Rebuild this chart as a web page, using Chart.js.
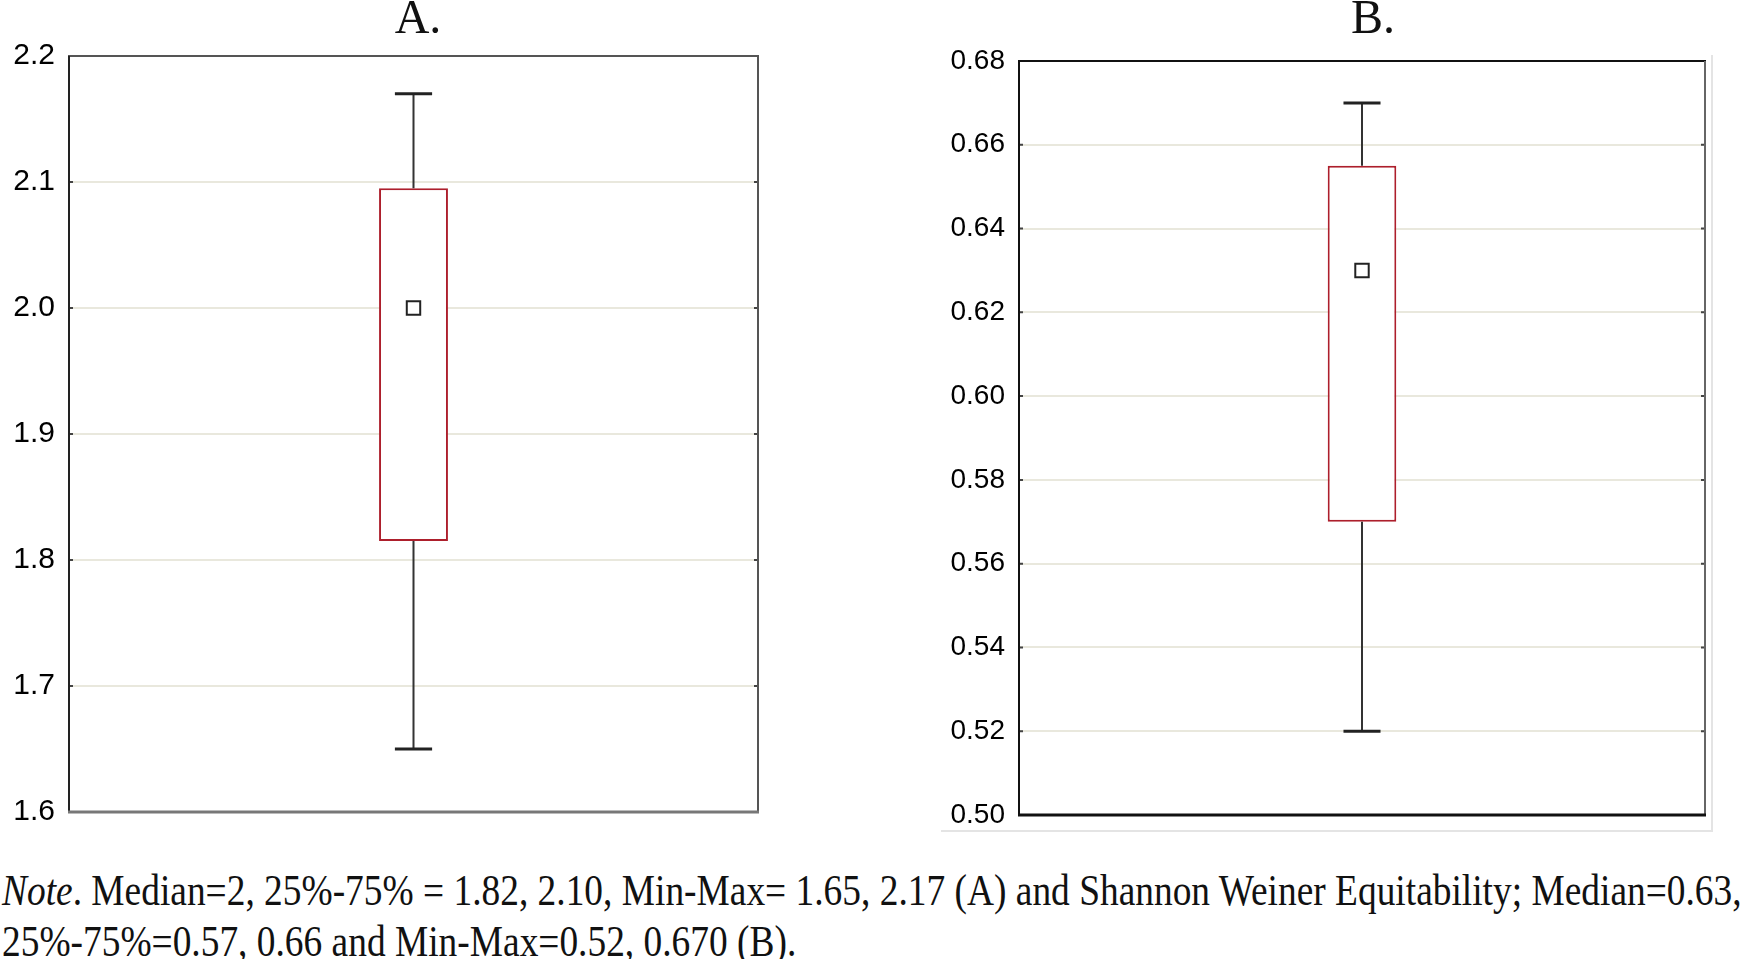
<!DOCTYPE html>
<html>
<head>
<meta charset="utf-8">
<script src="https://cdn.jsdelivr.net/npm/chart.js@4.4.1/dist/chart.umd.min.js"></script>
<style>
  html, body { margin: 0; padding: 0; background: #fff; }
  body { width: 1744px; height: 959px; position: relative; overflow: hidden; }
  .panel { position: absolute; }
  canvas { display: block; }
  .title { position: absolute; top: -7px; font: 48px "Liberation Serif", "Times New Roman", serif; line-height: 48px; color: #111; text-align: center; width: 100px; }
  .frameB { position: absolute; left: 941px; top: 55px; width: 770px; height: 775px; border-right: 2px solid #e4e4e4; border-bottom: 2px solid #e4e4e4; }
  .note { position: absolute; left: 2px; font: 44px "Liberation Serif", "Times New Roman", serif; line-height: 52px; color: #111; white-space: nowrap; transform-origin: 0 0; }
</style>
</head>
<body>
<div class="frameB"></div>
<div class="panel" style="left:0;top:0"><canvas id="chartA" width="772" height="850" style="width:772px;height:850px"></canvas></div>
<div class="panel" style="left:930px;top:0"><canvas id="chartB" width="790" height="852" style="width:790px;height:852px"></canvas></div>
<div class="title" style="left:368px">A.</div>
<div class="title" style="left:1323px">B.</div>
<div class="note" id="note1" style="top:865px"><i>Note</i>. Median=2, 25%-75% = 1.82, 2.10, Min-Max= 1.65, 2.17 (A) and Shannon Weiner Equitability; Median=0.63,</div>
<div class="note" id="note2" style="top:916px">25%-75%=0.57, 0.66 and Min-Max=0.52, 0.670 (B).</div>

<script>
// valores: [min, q1, mediana, q3, max]
const categories = ["A"];
const valuesA = [1.65, 1.815, 2.0, 2.095, 2.17];
const valuesB = [0.52, 0.57, 0.63, 0.655, 0.67];
const ticksA = [1.6, 1.7, 1.8, 1.9, 2.0, 2.1, 2.2];
const ticksB = [0.50, 0.52, 0.54, 0.56, 0.58, 0.60, 0.62, 0.64, 0.66, 0.68];

const boxColor = "#ad1f2c";
const whiskerColor = "#333";

// Desenha bigodes, moldura e marcas de escala
const boxPlugin = {
    id: "boxPlugin",
    afterDatasetsDraw(chart, args, opts) {
        const ctx = chart.ctx;
        const y = chart.scales.y;
        const vals = opts.values;
        const bar = chart.getDatasetMeta(0).data[0];
        const cx = bar.x;
        const capHalf = bar.width * 0.27;

        ctx.save();
        ctx.strokeStyle = whiskerColor;
        ctx.lineWidth = 2;
        ctx.beginPath();
        ctx.moveTo(cx, y.getPixelForValue(vals[3]));
        ctx.lineTo(cx, y.getPixelForValue(vals[4]));
        ctx.moveTo(cx, y.getPixelForValue(vals[1]));
        ctx.lineTo(cx, y.getPixelForValue(vals[0]));
        ctx.stroke();

        ctx.lineWidth = 3;
        ctx.strokeStyle = "#222";
        [vals[0], vals[4]].forEach(v => {
            const py = y.getPixelForValue(v);
            ctx.beginPath();
            ctx.moveTo(cx - capHalf, py);
            ctx.lineTo(cx + capHalf, py);
            ctx.stroke();
        });
        ctx.restore();
    },
    afterDraw(chart, args, opts) {
        const ctx = chart.ctx;
        const a = chart.chartArea;
        const y = chart.scales.y;
        ctx.save();
        // marcas pequenas dentro da área
        ctx.strokeStyle = "#444";
        ctx.lineWidth = 2;
        y.ticks.forEach(t => {
            const py = y.getPixelForValue(t.value);
            ctx.beginPath();
            ctx.moveTo(a.left, py);
            ctx.lineTo(a.left + 4, py);
            ctx.moveTo(a.right, py);
            ctx.lineTo(a.right - 4, py);
            ctx.stroke();
        });
        // moldura
        const side = (color, w, x1, y1, x2, y2) => {
            ctx.strokeStyle = color;
            ctx.lineWidth = w;
            ctx.beginPath();
            ctx.moveTo(x1, y1);
            ctx.lineTo(x2, y2);
            ctx.stroke();
        };
        const f = opts.frame;
        side(f.top, 2, a.left - 1, a.top, a.right + 1, a.top);
        side(f.left, 2, a.left, a.top, a.left, a.bottom);
        side(f.right, 2, a.right, a.top, a.right, a.bottom);
        side(f.bottom, 3, a.left - 1, a.bottom, a.right + 1, a.bottom);
        ctx.restore();
    }
};

function makeChart(canvasId, values, tickValues, decimals, fontSize, axisWidth, frame) {
    const ctx = document.getElementById(canvasId).getContext("2d");
    return new Chart(ctx, {
        data: {
            labels: categories,
            datasets: [
                {
                    type: "bar",
                    data: [[values[1], values[3]]],
                    backgroundColor: "#fff",
                    borderColor: boxColor,
                    borderWidth: 2,
                    borderSkipped: false,
                    barPercentage: 0.1,
                    categoryPercentage: 1,
                    order: 2
                },
                {
                    type: "line",
                    data: [values[2]],
                    showLine: false,
                    pointStyle: "rect",
                    pointRadius: 9.5,
                    pointBackgroundColor: "#fff",
                    pointBorderColor: "#222",
                    pointBorderWidth: 2,
                    order: 1
                }
            ]
        },
        options: {
            responsive: false,
            animation: false,
            devicePixelRatio: 1,
            layout: { padding: { top: 50, bottom: 36, left: 0, right: 14 }, autoPadding: false },
            plugins: {
                legend: { display: false },
                tooltip: { enabled: false },
                boxPlugin: { values: values, frame: frame }
            },
            scales: {
                x: { display: false },
                y: {
                    min: tickValues[0],
                    max: tickValues[tickValues.length - 1],
                    afterBuildTicks: scale => {
                        scale.ticks = tickValues.map(v => ({ value: v }));
                    },
                    afterFit: scale => { scale.width = axisWidth; },
                    border: { display: false },
                    grid: { color: "#e9e8dd", lineWidth: 2, drawTicks: false },
                    ticks: {
                        padding: 14,
                        color: "#000",
                        font: { family: "'Liberation Sans', Arial, sans-serif", size: fontSize },
                        callback: v => Number(v).toFixed(decimals)
                    }
                }
            }
        },
        plugins: [boxPlugin]
    });
}

// acerta a área do gráfico na posição do original
function fitArea(chart, target) {
    const p = chart.options.layout.padding;
    for (let i = 0; i < 2; i++) {
        const a = chart.chartArea;
        p.top += target.top - a.top;
        p.bottom += a.bottom - target.bottom;
        p.right += a.right - target.right;
        chart.update();
    }
}

const chartA = makeChart("chartA", valuesA, ticksA, 1, 30, 69,
    { top: "#555", left: "#222", right: "#555", bottom: "#777" });
const chartB = makeChart("chartB", valuesB, ticksB, 2, 28, 89,
    { top: "#111", left: "#111", right: "#666", bottom: "#111" });

fitArea(chartA, { top: 56, bottom: 812, right: 758 });
fitArea(chartB, { top: 61, bottom: 815, right: 775 });

// ajusta a largura da nota como no original (texto comprimido)
const note1 = document.getElementById("note1");
const note2 = document.getElementById("note2");
const k = 1740 / note1.scrollWidth;
note1.style.transform = "scaleX(" + k + ")";
note2.style.transform = "scaleX(" + k + ")";
</script>
</body>
</html>
